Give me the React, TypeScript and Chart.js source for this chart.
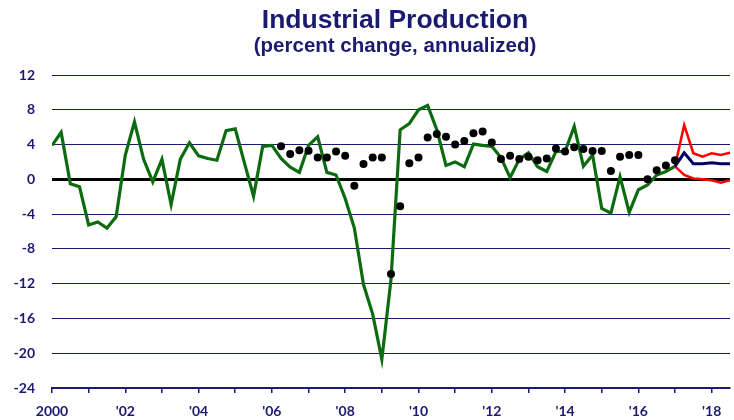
import React, { useEffect, useRef } from 'react';
import { Chart, registerables } from 'chart.js';

Chart.register(...registerables);

// Actual quarterly growth (green), first quarter 2000
const actualStart = 2000;
const actualValues = [
  3.9, 5.4, -0.5, -0.85,
  -5.25, -4.9, -5.6, -4.3,
  2.8, 6.6, 2.3, -0.3,
  2.3, -2.9, 2.3, 4.2,
  2.7, 2.4, 2.2, 5.6,
  5.8, 1.9, -1.95, 3.8,
  3.9, 2.4, 1.4, 0.8,
  3.9, 4.9, 0.8, 0.5,
  -2.2, -5.6, -12.1, -15.5,
  -20.7, -11.5, 5.7, 6.4,
  8.0, 8.5, 5.7, 1.6,
  2.0, 1.45, 4.05, 3.9,
  3.8, 2.5, 0.2, 2.3,
  3.05, 1.45, 0.9, 3.2,
  3.2, 6.1, 1.5, 2.8,
  -3.35, -3.9, 0.3, -3.8,
  -1.2, -0.65, 0.5, 0.9,
  1.5,
];

// Black dots, starting 2006 Q2
const dotStart = 2006.25;
const dotValues = [
  3.8, 2.9, 3.35, 3.3, 2.5, 2.5, 3.2, 2.7, -0.75, 1.75, 2.5, 2.5,
  -10.9, -3.1,
  1.85, 2.5, 4.8, 5.2, 4.9, 4.0, 4.4, 5.3, 5.5, 4.25,
  2.35, 2.7, 2.35, 2.6, 2.2, 2.4, 3.55, 3.2, 3.7, 3.5, 3.25, 3.25,
  0.95, 2.6, 2.8, 2.8, 0.0, 1.05, 1.6, 2.2,
];

// Forecast paths, starting 2017 Q1
const forecastStart = 2017;
const baseForecast = [1.5, 3.05, 1.8, 1.8, 1.9, 1.8, 1.8];
const highForecast = [1.5, 6.25, 3.0, 2.6, 3.0, 2.8, 3.05];
const lowForecast = [1.5, 0.5, 0.1, 0.0, -0.1, -0.4, -0.1];

const yTicks = [-24, -20, -16, -12, -8, -4, 0, 4, 8, 12];
const titleText = 'Industrial Production';
const subtitleText = '(percent change, annualized)';

const NAVY = '#1a1a70';
const GREEN = '#0b6b0e';

const toPoints = (start: number, vals: number[]) =>
  vals.map((v, i) => ({ x: start + i * 0.25, y: v }));

const titlePlugin = {
  id: 'customTitle',
  afterDraw(chart: any) {
    const { ctx, chartArea } = chart;
    const cx = (chartArea.left + chartArea.right) / 2 + 4;
    ctx.save();
    ctx.fillStyle = NAVY;
    ctx.textAlign = 'center';
    ctx.textBaseline = 'alphabetic';
    ctx.font = 'bold 26.5px "Liberation Sans", Arial, sans-serif';
    ctx.fillText(titleText, cx, 28);
    ctx.font = 'bold 20.5px "Liberation Sans", Arial, sans-serif';
    ctx.fillText(subtitleText, cx, 52);
    ctx.restore();
  },
};

export default function App() {
  const ref = useRef<HTMLCanvasElement | null>(null);

  useEffect(() => {
    if (!ref.current) return;
    const tickFont = { family: 'Lato, "DejaVu Sans", sans-serif', weight: 'bold' as const, size: 14 };
    const chart = new Chart(ref.current, {
      type: 'line',
      data: {
        datasets: [
          {
            label: 'Dots',
            data: toPoints(dotStart, dotValues),
            showLine: false,
            pointRadius: 4,
            pointBackgroundColor: '#000',
            pointBorderWidth: 0,
            borderColor: '#000',
          },
          {
            label: 'Base',
            data: toPoints(forecastStart, baseForecast),
            borderColor: '#000066',
            borderWidth: 3,
            pointRadius: 0,
            tension: 0,
          },
          {
            label: 'Actual',
            data: toPoints(actualStart, actualValues),
            borderColor: GREEN,
            borderWidth: 3.2,
            pointRadius: 0,
            tension: 0,
          },
          {
            label: 'High',
            data: toPoints(forecastStart, highForecast),
            borderColor: '#ff0000',
            borderWidth: 2.5,
            pointRadius: 0,
            tension: 0,
          },
          {
            label: 'Low',
            data: toPoints(forecastStart, lowForecast),
            borderColor: '#ff0000',
            borderWidth: 2.5,
            pointRadius: 0,
            tension: 0,
          },
        ],
      },
      options: {
        animation: false,
        responsive: true,
        maintainAspectRatio: false,
        layout: { padding: { top: 75, left: 0, right: 0, bottom: 0 } },
        plugins: {
          legend: { display: false },
          tooltip: { enabled: false },
          title: { display: false },
        },
        scales: {
          x: {
            type: 'linear',
            min: 2000,
            max: 2018.5,
            border: { display: true, color: NAVY, width: 2 },
            grid: {
              display: true,
              drawOnChartArea: false,
              drawTicks: true,
              tickLength: 5,
              color: NAVY,
              lineWidth: 1.5,
            },
            ticks: {
              stepSize: 1,
              autoSkip: false,
              includeBounds: false,
              maxRotation: 0,
              minRotation: 0,
              padding: 10,
              color: NAVY,
              font: tickFont,
              callback: (v: any) => {
                const y = Math.round(Number(v));
                if (y % 2 !== 0) return '';
                return y === 2000 ? '2000' : "'" + String(y).slice(2);
              },
            },
            afterFit: (s: any) => {
              s.height = 32;
            },
          },
          y: {
            min: -24,
            max: 12,
            border: { display: false },
            grid: {
              drawTicks: false,
              color: (c: any) => (c.tick && c.tick.value === 0 ? '#000' : NAVY),
              lineWidth: (c: any) => (c.tick && c.tick.value === 0 ? 3 : 1),
            },
            afterBuildTicks: (s: any) => {
              s.ticks = yTicks.map((v) => ({ value: v }));
            },
            ticks: {
              padding: 17,
              color: NAVY,
              font: tickFont,
            },
            afterFit: (s: any) => {
              s.width = 52;
            },
          },
        },
      },
      plugins: [titlePlugin],
    });
    return () => chart.destroy();
  }, []);

  return (
    <div style={{ position: 'fixed', left: 0, top: 0, width: 734, height: 420 }}>
      <canvas ref={ref} />
    </div>
  );
}
